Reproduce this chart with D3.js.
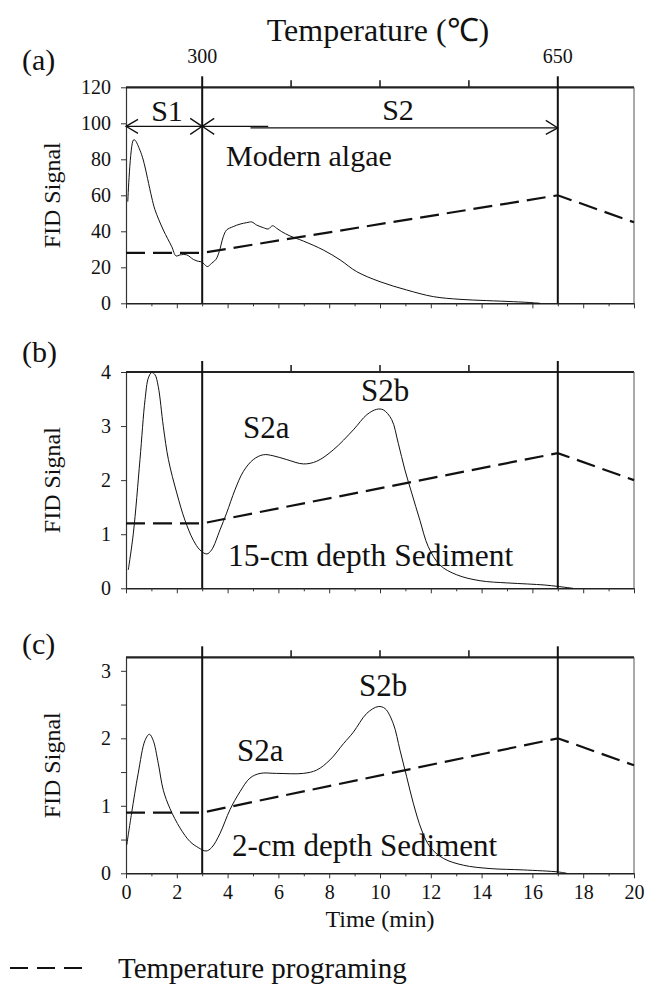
<!DOCTYPE html>
<html><head><meta charset="utf-8">
<script src="https://cdn.jsdelivr.net/npm/d3@7"></script>
<style>
html,body{margin:0;padding:0;background:#fff;}
svg{display:block;}
text{font-family:"Liberation Serif","Times New Roman",serif;fill:#111;}
</style></head>
<body>
<svg id="chart" width="648" height="992" font-family="Liberation Serif, Times New Roman, serif"></svg>
<script>
// ---------- DATA ----------
const xTickValues = [0,2,4,6,8,10,12,14,16,18,20];
const tempTickTimes = [3, 6.5, 10, 13.5, 17];
const tempLabels = [{t:3, label:"300"}, {t:17, label:"650"}];

// temperature programme (dashed) — time (min) and scaled signal
const tempTime = [0, 3, 17, 20];
const tempA = [28, 28, 60, 45];
const tempB = [1.2, 1.2, 2.5, 2.0];
const tempC = [0.9, 0.9, 2.0, 1.6];

// (a) Modern algae
const timeA = [0.07,0.29,0.35,0.55,0.68,1.01,1.14,1.47,1.80,1.97,2.13,2.39,2.65,2.85,2.98,3.07,3.20,3.37,3.54,3.67,3.83,3.96,4.22,4.49,4.75,4.95,5.14,5.41,5.60,5.77,5.93,6.13,6.46,6.98,7.77,8.43,9.08,10.0,11.05,12.1,13.15,14.2,15.25,16.04,16.3];
const fidA  = [56.5,90.7,90.7,85,79.6,59,52,40.7,31.5,26.3,26.9,26.9,24.4,23.3,23,21.9,20.4,22.2,24.4,28.7,37,40.7,42.6,44,44.8,45.2,43.5,42,41.3,43.1,41.7,39.8,37.4,34.6,29.6,24.1,17.6,12.0,7.4,3.7,2.2,1.5,0.9,0.3,0];

// (b) 15-cm depth sediment
const timeB = [0.09,0.29,0.55,0.75,0.88,1.01,1.14,1.27,1.47,1.67,2.0,2.32,2.65,2.91,3.18,3.37,3.70,3.96,4.29,4.62,5.01,5.41,5.80,6.33,6.98,7.51,8.16,8.95,9.48,9.87,10.13,10.46,10.72,10.98,11.25,11.57,11.90,12.36,13.02,13.94,14.99,15.8,16.5,17.0,17.6];
const fidB  = [0.34,1.02,2.38,3.49,3.89,3.99,3.95,3.73,2.99,2.38,1.76,1.26,0.89,0.71,0.635,0.71,1.08,1.39,1.82,2.16,2.38,2.47,2.45,2.38,2.30,2.35,2.56,2.93,3.21,3.31,3.30,3.12,2.68,2.19,1.76,1.26,0.77,0.43,0.25,0.14,0.10,0.08,0.06,0.035,0];

// (c) 2-cm depth sediment
const timeC = [0.03,0.22,0.48,0.75,0.92,1.07,1.27,1.47,1.73,2.13,2.52,2.85,3.15,3.37,3.70,4.09,4.49,4.88,5.28,5.93,6.98,7.51,8.03,8.56,8.95,9.48,9.93,10.2,10.52,10.79,11.05,11.31,11.64,11.97,12.5,13.28,14.33,15.64,17.02,17.35];
const fidC  = [0.42,0.89,1.48,1.97,2.06,1.97,1.63,1.23,0.96,0.67,0.47,0.38,0.33,0.38,0.59,0.94,1.21,1.41,1.48,1.48,1.48,1.53,1.68,1.92,2.09,2.37,2.47,2.44,2.22,1.82,1.43,1.04,0.64,0.39,0.22,0.12,0.07,0.05,0.02,0];

// ---------- LAYOUT ----------
const svg = d3.select("#chart");
const font = '"Liberation Serif","Times New Roman",serif';
const x = d3.scaleLinear().domain([0,20]).range([126,634]);

const panels = [
  {id:"(a)", idY:70, top:87.3, bottom:303.3, domain:[0,120], ticks:[0,20,40,60,80,100,120], labelTicks:null,
   time:timeA, fid:fidA, temp:tempA, xLabels:false},
  {id:"(b)", idY:362, top:372, bottom:588.3, domain:[0,4], ticks:[0,1,2,3,4], labelTicks:null,
   time:timeB, fid:fidB, temp:tempB, xLabels:false},
  {id:"(c)", idY:654, top:657.3, bottom:873.3, domain:[0,3.2], ticks:[0,0.5,1,1.5,2,2.5,3], labelTicks:[0,1,2,3],
   time:timeC, fid:fidC, temp:tempC, xLabels:true}
];

function styleAxis(sel){
  sel.attr("font-family", font).attr("font-size", 20);
  sel.selectAll("text").style("font-family", font).style("font-size","20px").attr("fill","#111");
}

panels.forEach(p => {
  const y = d3.scaleLinear().domain(p.domain).range([p.bottom, p.top]);
  p.y = y;
  const g = svg.append("g");

  // y axis
  const ya = d3.axisLeft(y).tickValues(p.ticks).tickSize(5).tickSizeOuter(0).tickPadding(10)
    .tickFormat(d => (p.labelTicks && !p.labelTicks.includes(d)) ? "" : d3.format("d")(d));
  const yg = g.append("g").attr("transform", `translate(${x(0)},0)`).call(ya);
  styleAxis(yg);
  yg.select(".domain").attr("stroke","#333").attr("stroke-width",1.2);
  yg.selectAll(".tick line").attr("stroke","#333");

  // x axis (bottom)
  const xa = d3.axisBottom(x).tickValues(xTickValues).tickSize(5).tickSizeOuter(0).tickPadding(7)
    .tickFormat(p.xLabels ? d3.format("d") : () => "");
  const xg = g.append("g").attr("transform", `translate(0,${p.bottom})`).call(xa);
  styleAxis(xg);
  xg.select(".domain").attr("stroke","#222").attr("stroke-width",1.4);
  xg.selectAll(".tick line").attr("stroke","#333");
  const xm = d3.axisBottom(x).tickValues(d3.range(1,20,2)).tickSize(3).tickSizeOuter(0).tickFormat(() => "");
  const xmg = g.append("g").attr("transform", `translate(0,${p.bottom})`).call(xm);
  xmg.select(".domain").remove();
  xmg.selectAll(".tick line").attr("stroke","#333");

  // top border
  g.append("line").attr("x1", x(0)).attr("x2", x(20)).attr("y1", p.top).attr("y2", p.top)
    .attr("stroke","#222").attr("stroke-width",2.2);
  // right border
  g.append("line").attr("x1", x(20)).attr("x2", x(20)).attr("y1", p.top).attr("y2", p.bottom)
    .attr("stroke","#555").attr("stroke-width",1);

  // temperature ticks on top
  g.selectAll(".ttick").data(tempTickTimes.filter(t => t !== 3 && t !== 17)).enter().append("line")
    .attr("x1", d => x(d)).attr("x2", d => x(d)).attr("y1", p.top).attr("y2", p.top - 7)
    .attr("stroke","#222").attr("stroke-width",1.6);
  // vertical lines at 300 and 650 °C
  g.selectAll(".vline").data([3,17]).enter().append("line")
    .attr("x1", d => x(d)).attr("x2", d => x(d)).attr("y1", p.bottom).attr("y2", p.top - 11)
    .attr("stroke","#111").attr("stroke-width",2);

  // temperature programme (dashed)
  const tline = d3.line().x((d,i) => x(tempTime[i])).y(d => y(d));
  g.append("path").attr("d", tline(p.temp)).attr("fill","none").attr("stroke","#111")
    .attr("stroke-width",2.2).attr("stroke-dasharray","19,8");

  // FID signal
  const fline = d3.line().x((d,i) => x(p.time[i])).y(d => y(d)).curve(d3.curveCatmullRom.alpha(0.5));
  g.append("path").attr("d", fline(p.fid)).attr("fill","none").attr("stroke","#111").attr("stroke-width",1);

  // y label
  const cy = (p.top + p.bottom) / 2;
  g.append("text").attr("transform", `translate(60,${cy}) rotate(-90)`).attr("text-anchor","middle")
    .style("font-size","24px").text("FID Signal");

  // panel id
  g.append("text").attr("x", 22).attr("y", p.idY).style("font-size","30px").text(p.id);
});

// ---------- TOP TEMPERATURE AXIS LABELS ----------
svg.append("text").attr("x", 378).attr("y", 41).attr("text-anchor","middle")
  .style("font-size","32px").text("Temperature (℃)");
svg.selectAll(".tlab").data(tempLabels).enter().append("text")
  .attr("x", d => x(d.t)).attr("y", 63).attr("text-anchor","middle")
  .style("font-size","20px").text(d => d.label);

// ---------- ANNOTATIONS PANEL (a) ----------
const pa = panels[0];
const ay = pa.y(98.3);
const arrowG = svg.append("g").attr("stroke","#111").attr("fill","none").attr("stroke-width",1.3);
// S1 double arrow
arrowG.append("line").attr("x1", x(0)).attr("x2", x(3)).attr("y1", ay).attr("y2", ay);
arrowG.append("path").attr("d", `M${x(0)+12},${ay-7}L${x(0)},${ay}L${x(0)+12},${ay+7}`);
arrowG.append("path").attr("d", `M${x(3)-12},${ay-8}L${x(3)},${ay}L${x(3)-12},${ay+8}`);
// S2 arrow
arrowG.append("line").attr("x1", x(3)).attr("x2", x(5.6)).attr("y1", ay).attr("y2", ay);
arrowG.append("line").attr("x1", x(4.9)).attr("x2", x(17)).attr("y1", ay+1.5).attr("y2", ay+1.5);
arrowG.append("path").attr("d", `M${x(3)+12},${ay-8}L${x(3)},${ay}L${x(3)+12},${ay+8}`);
arrowG.append("path").attr("d", `M${x(17)-12},${ay-6}L${x(17)},${ay+1.5}L${x(17)-12},${ay+8}`);

svg.append("text").attr("x", 167).attr("y", 121).attr("text-anchor","middle").style("font-size","30px").text("S1");
svg.append("text").attr("x", 398).attr("y", 120).attr("text-anchor","middle").style("font-size","30px").text("S2");
svg.append("text").attr("x", 226).attr("y", 166).style("font-size","30px").text("Modern algae");

// panel (b)
svg.append("text").attr("x", 243).attr("y", 438).style("font-size","31px").text("S2a");
svg.append("text").attr("x", 361).attr("y", 401).style("font-size","31px").text("S2b");
svg.append("text").attr("x", 228).attr("y", 566).style("font-size","31.5px").text("15-cm depth Sediment");
// panel (c)
svg.append("text").attr("x", 237).attr("y", 761).style("font-size","31px").text("S2a");
svg.append("text").attr("x", 359).attr("y", 696).style("font-size","31px").text("S2b");
svg.append("text").attr("x", 232).attr("y", 856).style("font-size","31px").text("2-cm depth Sediment");

// x axis title
svg.append("text").attr("x", (x(0)+x(20))/2).attr("y", 927).attr("text-anchor","middle")
  .style("font-size","24px").text("Time (min)");

// ---------- LEGEND ----------
svg.append("line").attr("x1", 10).attr("x2", 84).attr("y1", 968).attr("y2", 968)
  .attr("stroke","#111").attr("stroke-width",2).attr("stroke-dasharray","18,9");
svg.append("text").attr("x", 118).attr("y", 978).style("font-size","29px").text("Temperature programing");
</script>
</body></html>
